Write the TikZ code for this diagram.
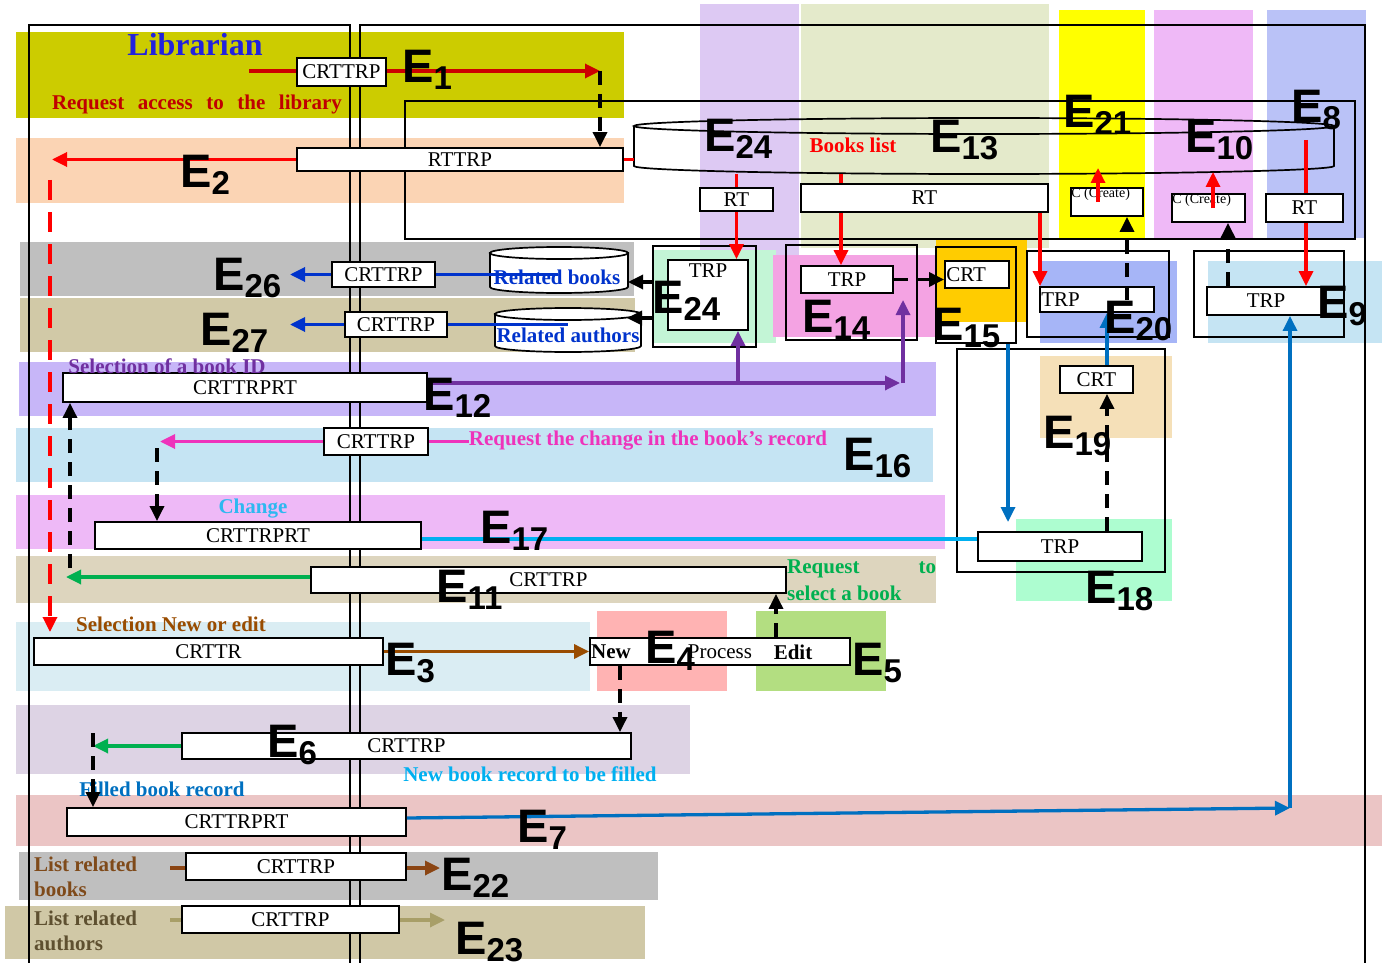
\documentclass[tikz,border=0pt]{standalone}
\usepackage{fontspec}
\setmainfont{Liberation Serif}
\newfontfamily\efont{Liberation Sans}
\usetikzlibrary{arrows.meta}
\newcommand\fsz[1]{\fontsize{#1}{#1}\selectfont}
\newcommand\El[1]{{\efont\bfseries\fsz{47}E\raisebox{-7pt}{\fsz{33}#1}}}
% bands
\definecolor{cOlive}{HTML}{CCCC00}
\definecolor{cPeach}{HTML}{FBD4B4}
\definecolor{cGray}{HTML}{BFBFBF}
\definecolor{cTan}{HTML}{D1C9A7}
\definecolor{cLav}{HTML}{C7B6F8}
\definecolor{cLB}{HTML}{C5E4F3}
\definecolor{cPV}{HTML}{EEB9F7}
\definecolor{cBeige}{HTML}{DDD5BE}
\definecolor{cLBb}{HTML}{DAEDF3}
\definecolor{cSal}{HTML}{FFB3B3}
\definecolor{cGrn}{HTML}{B3DE81}
\definecolor{cSix}{HTML}{DDD3E4}
\definecolor{cSeven}{HTML}{EBC5C5}
\definecolor{cTanb}{HTML}{D0C8A6}
\definecolor{cUa}{HTML}{DDC9F3}
\definecolor{cUb}{HTML}{E4EACB}
\definecolor{cUc}{HTML}{FFFF00}
\definecolor{cUd}{HTML}{EFB9F7}
\definecolor{cUe}{HTML}{BAC2F7}
\definecolor{cMa}{HTML}{C3F5D6}
\definecolor{cMb}{HTML}{F4A3E3}
\definecolor{cMc}{HTML}{FFCC00}
\definecolor{cMd}{HTML}{A6B5F7}
\definecolor{cMe}{HTML}{C5E4F3}
\definecolor{cMf}{HTML}{F5E0B8}
\definecolor{cMg}{HTML}{ADFDD0}
% texts and lines
\definecolor{tLib}{HTML}{2222DD}
\definecolor{tReq}{HTML}{C00000}
\definecolor{tRed}{HTML}{FF0000}
\definecolor{tRel}{HTML}{0033CC}
\definecolor{tSel}{HTML}{7030A0}
\definecolor{tMag}{HTML}{EE33BB}
\definecolor{tChg}{HTML}{2EB8F0}
\definecolor{tGreen}{HTML}{00B050}
\definecolor{tBrown}{HTML}{994C00}
\definecolor{tCyan}{HTML}{00B0F0}
\definecolor{tBlue}{HTML}{0070C0}
\definecolor{tLRB}{HTML}{7F4A1A}
\definecolor{tLRA}{HTML}{5E5030}
\definecolor{lDark}{HTML}{CC0000}
\definecolor{lBrownb}{HTML}{8B4513}
\definecolor{lKhaki}{HTML}{A89F68}
\begin{document}
\begin{tikzpicture}[x=1pt,y=-1pt,
  frame/.style={draw=black,line width=1.7pt},
  bx/.style={draw=black,line width=1.9pt,fill=white,inner sep=0pt,font=\fsz{21}},
  ob/.style={draw=black,line width=1.9pt,inner sep=0pt},
  ln/.style={line width=3.3pt},
  ar/.style={line width=3.3pt,-{Triangle[length=15pt,width=14pt]}},
  dsh/.style={dash pattern=on 14pt off 9pt},
  rdsh/.style={dash pattern=on 20pt off 12pt},
  lab/.style={inner sep=0pt,font=\fsz{21}\bfseries},
  el/.style={anchor=base west,inner sep=0pt}]
\useasboundingbox (0,0) rectangle (1382,963);
% ---------- bands ----------
\fill[cOlive] (16,32) rectangle (624,118);
\fill[cPeach] (16,138) rectangle (624,203);
\fill[cGray] (20,242) rectangle (634,296);
\fill[cTan] (20,298) rectangle (635,352);
\fill[cLav] (19,362) rectangle (936,416);
\fill[cLB] (16,428) rectangle (933,482);
\fill[cPV] (16,495) rectangle (945,549);
\fill[cBeige] (16,556) rectangle (936,603);
\fill[cLBb] (16,622) rectangle (590,691);
\fill[cSal] (597,611) rectangle (727,691);
\fill[cGrn] (756,611) rectangle (886,691);
\fill[cSix] (16,705) rectangle (690,774);
\fill[cSeven] (16,795) rectangle (1382,846);
\fill[cGray] (19,852) rectangle (658,900);
\fill[cTanb] (5,906) rectangle (645,959);
\fill[cUa] (700,4) rectangle (799,255);
\fill[cUb] (801,4) rectangle (1049,248);
\fill[cUc] (1059,10) rectangle (1145,238);
\fill[cUd] (1154,10) rectangle (1253,238);
\fill[cUe] (1267,10) rectangle (1366,238);
\fill[cMa] (653,250) rectangle (776,343);
\fill[cMb] (773,255) rectangle (936,337);
\fill[cMc] (936,240) rectangle (1027,322);
\fill[cMd] (1040,261) rectangle (1177,343);
\fill[cMe] (1208,261) rectangle (1382,343);
\fill[cMf] (1040,356) rectangle (1172,438);
\fill[cMg] (1016,519) rectangle (1172,601);
% ---------- frames ----------
\draw[frame] (29,963) -- (29,25) -- (350,25) -- (350,963);
\draw[frame] (360,963) -- (360,25) -- (1365,25) -- (1365,963);
\draw[frame] (405,101) rectangle (1355,239);
% Books list cylinder
\draw[frame] (984,126) ellipse [x radius=350, y radius=8];
\draw[frame] (634,126) -- (634,166) arc[start angle=180,end angle=0,x radius=350,y radius=8] -- (1334,126);
% related books / authors cylinders
\draw[frame,fill=white] (490,253) -- (490,287) arc[start angle=180,end angle=0,x radius=69,y radius=6] -- (628,253) -- cycle;
\draw[frame,fill=white] (559,253) ellipse [x radius=69, y radius=6];
\draw[frame,fill=white] (495,314) -- (495,346) arc[start angle=180,end angle=0,x radius=73,y radius=6] -- (641,314) -- cycle;
\draw[frame,fill=white] (568,314) ellipse [x radius=73, y radius=6];
% ---------- outer boxes ----------
\node[ob,minimum width=103,minimum height=101] (o24) at (704.5,296.5) {};
\node[ob,minimum width=131,minimum height=95] (o14) at (851.5,292.5) {};
\node[ob,minimum width=80,minimum height=96] (o15) at (976,295) {};
\node[ob,minimum width=142,minimum height=86] (o20) at (1098,294) {};
\node[ob,minimum width=150,minimum height=86] (o9) at (1269,294) {};
\node[ob,minimum width=208,minimum height=223] (o1819) at (1061,460.5) {};
% ---------- white boxes ----------
\node[bx,minimum width=80,minimum height=70,label={[anchor=north,inner sep=0pt,yshift=-4pt,font=\fsz{21}]north:TRP}] (trp24) at (708,295) {};
\node[bx,minimum width=92,minimum height=27] (trp14) at (847,279.5) {TRP};
\node[bx,minimum width=64,minimum height=27,label={[anchor=west,inner sep=0pt,xshift=2pt,font=\fsz{21}]west:CRT}] (crt15) at (977,274.5) {};
\node[bx,minimum width=114,minimum height=25,label={[anchor=west,inner sep=0pt,xshift=2pt,font=\fsz{21}]west:TRP}] (trp20) at (1097,299.5) {};
\node[bx,minimum width=118,minimum height=28] (trp9) at (1266,301) {TRP};
\node[bx,minimum width=73,minimum height=27] (crt19) at (1096.5,379.5) {CRT};
\node[bx,minimum width=164,minimum height=29] (trp18) at (1060,546.5) {TRP};
\node[bx,minimum width=73,minimum height=23] (rt1) at (736.5,199.5) {RT};
\node[bx,minimum width=247,minimum height=28] (rt2) at (924.5,198) {RT};
\node[bx,minimum width=72,minimum height=28,label={[anchor=north west,inner sep=1pt,font=\fsz{14}]north west:C (Create)}] (cc1) at (1107,202) {};
\node[bx,minimum width=73,minimum height=28,label={[anchor=north west,inner sep=1pt,font=\fsz{14}]north west:C (Create)}] (cc2) at (1208.5,208) {};
\node[bx,minimum width=77,minimum height=28] (rt3) at (1304.5,208) {RT};
\node[bx,minimum width=89,minimum height=28] (e1) at (341.5,72) {CRTTRP};
\node[bx,minimum width=326,minimum height=23] (rttrp) at (460,159.5) {RTTRP};
\node[bx,minimum width=103,minimum height=25] (e26b) at (383.5,274.5) {CRTTRP};
\node[bx,minimum width=102,minimum height=25] (e27b) at (396,324.5) {CRTTRP};
\node[bx,minimum width=364,minimum height=29] (e12b) at (245,387.5) {CRTTRPRT};
\node[bx,minimum width=104,minimum height=27] (e16b) at (376,441.5) {CRTTRP};
\node[bx,minimum width=326,minimum height=27] (e17b) at (258,535.5) {CRTTRPRT};
\node[bx,minimum width=475,minimum height=26] (e11b) at (548.5,580) {CRTTRP};
\node[bx,minimum width=349,minimum height=27] (e3b) at (208.5,651.5) {CRTTR};
\node[bx,minimum width=260,minimum height=27] (npe) at (720,651.5) {};
\node[bx,minimum width=449,minimum height=26] (e6b) at (406.5,746) {CRTTRP};
\node[bx,minimum width=339,minimum height=28] (e7b) at (236.5,822) {CRTTRPRT};
\node[bx,minimum width=220,minimum height=27] (e22b) at (296,866.5) {CRTTRP};
\node[bx,minimum width=217,minimum height=27] (e23b) at (290.5,919.5) {CRTTRP};
% ---------- text labels ----------
\node[lab,font=\fsz{32}\bfseries,text=tLib] (lib) at (195,45) {Librarian};
\node[lab,text=tReq] (req) at (197,104) {\makebox[290pt][s]{Request access to the library}};
\node[lab,text=tRed] (bl) at (853,145) {Books list};
\node[lab,text=tSel] (sel) at (167,366) {Selection of a book ID};
\node[lab,text=tMag] (rq) at (648,441) {Request the change in the book’s record};
\node[lab,text=tChg] (chg) at (253,509) {Change};
\node[lab,text=tGreen,anchor=west] (rsa) at (787,569) {\makebox[149pt][s]{Request to}};
\node[lab,text=tGreen,anchor=west] (rsb) at (787,593) {select a book};
\node[lab,text=tBrown] (sne) at (171,624) {Selection New or edit};
\node[lab] (nw) at (611,652) {New};
\node[inner sep=0pt,font=\fsz{21}] (pr) at (720,652) {Process};
\node[lab] (ed) at (793,652) {Edit};
\node[lab,text=tCyan] (nbr) at (530,774) {New book record to be filled};
\node[lab,text=tBlue] (fbr) at (162,789) {Filled book record};
\node[lab,text=tLRB,anchor=west,align=left,font=\fontsize{21}{25}\selectfont\bfseries] (lrb) at (34,877) {List related\\books};
\node[lab,text=tLRA,anchor=west,align=left,font=\fontsize{21}{25}\selectfont\bfseries] (lra) at (34,931) {List related\\authors};
% ---------- connectors ----------
\coordinate (a1s) at (249,71); \coordinate (a1e) at (600,71);
\draw[ln,lDark] (a1s) -- (a1s -| e1.west);
\draw[ar,lDark] (a1s -| e1.east) -- (a1e);
\draw[ar,dsh] (a1e) -- (a1e |- rttrp.north);
\coordinate (cylL) at (634,159.5); \coordinate (a2e) at (52,159.5);
\draw[ln,tRed] (cylL) -- (rttrp.east);
\draw[ar,tRed] (rttrp.west) -- (a2e);
\coordinate (rd1) at (50,180); \coordinate (rd2) at (50,632);
\draw[ar,rdsh,tRed] (rd1) -- (rd2);
% related books / authors
\coordinate (b26) at (558,274.5); \coordinate (t26) at (290,274.5);
\draw[ln,tRel] (e26b.east) -- (b26);
\draw[ar,tRel] (e26b.west) -- (t26);
\coordinate (b27) at (568,324.5); \coordinate (t27) at (290,324.5);
\draw[ln,tRel] (e27b.east) -- (b27);
\draw[ar,tRel] (e27b.west) -- (t27);
\coordinate (k1e) at (628,282); \coordinate (k2e) at (627,318);
\draw[ar] (o24.west |- k1e) -- (k1e);
\draw[ar] (o24.west |- k2e) -- (k2e);
% red from Books list
\coordinate (r1) at (736.5,174);
\draw[ln,tRed] (r1) -- (rt1.north);
\draw[ar,tRed] (rt1.south) -- (rt1.south |- trp24.north);
\coordinate (r2) at (841,174);
\draw[ln,tRed] (r2) -- (r2 |- rt2.north);
\draw[ar,tRed] (r2 |- rt2.south) -- (r2 |- trp14.north);
\coordinate (r2b) at (1040,0);
\draw[ar,tRed] (r2b |- rt2.south) -- (r2b |- trp20.north);
\coordinate (u1) at (1098,168);
\draw[ar,tRed] (u1 |- cc1.center) -- (u1);
\coordinate (u2) at (1213,172);
\draw[ar,tRed] (u2 |- cc2.center) -- (u2);
\coordinate (r3) at (1306,140);
\draw[ln,tRed] (r3) -- (r3 |- rt3.north);
\draw[ar,tRed] (r3 |- rt3.south) -- (r3 |- trp9.north);
% dashed black up to C (Create)
\coordinate (d1) at (1127,300);
\draw[ar,dsh] (d1) -- (d1 |- cc1.south);
\coordinate (d2) at (1228,0);
\draw[ar,dsh] (d2 |- trp9.north) -- (d2 |- cc2.south);
\draw[ar,dsh] (trp14.east) -- (trp14.east -| crt15.west);
% purple
\coordinate (p1) at (900,383); \coordinate (p2) at (738,383);
\coordinate (p3) at (903,383); \coordinate (p3e) at (903,300);
\draw[ar,tSel] (e12b.east |- p1) -- (p1);
\draw[ar,tSel] (p2) -- (p2 |- trp24.south);
\draw[ar,tSel] (p3) -- (p3e);
% magenta
\coordinate (m1) at (160,441.5);
\draw[ar,tMag] (e16b.west) -- (m1);
\draw[ln,tMag] (e16b.east) -- (rq.west |- e16b.east);
\coordinate (d3) at (157,448);
\draw[ar,dsh] (d3) -- (d3 |- e17b.north);
% cyan
\coordinate (cy) at (0,539);
\draw[ln,tCyan] (e17b.east |- cy) -- (trp18.west |- cy);
% green E11
\coordinate (g1) at (66,577);
\draw[ar,tGreen] (e11b.west |- g1) -- (g1);
\coordinate (d4) at (70,568);
\draw[ar,dsh] (d4) -- (d4 |- e12b.south);
% brown E3
\draw[ar,tBrown] (e3b.east) -- (npe.west);
\coordinate (d5) at (776,0);
\draw[ar,dsh] (d5 |- npe.north) -- (d5 |- e11b.south);
\coordinate (d6) at (620,0);
\draw[ar,dsh] (d6 |- npe.south) -- (d6 |- e6b.north);
% E6
\coordinate (g2) at (93,746);
\draw[ar,tGreen] (e6b.west) -- (g2);
\coordinate (d7) at (93,733);
\draw[ar,dsh] (d7) -- (d7 |- e7b.north);
% E7
\coordinate (bb) at (1290,808);
\draw[ar,tBlue] ([yshift=4pt]e7b.east) -- (bb);
\draw[ar,tBlue] (bb) -- (bb |- trp9.south);
% E22 / E23
\coordinate (q1) at (170,868); \coordinate (q2) at (440,868);
\draw[ln,lBrownb] (q1) -- (q1 -| e22b.west);
\draw[ar,lBrownb] (q2 -| e22b.east) -- (q2);
\coordinate (q3) at (170,920); \coordinate (q4) at (445,920);
\draw[ln,lKhaki] (q3) -- (q3 -| e23b.west);
\draw[ar,lKhaki] (q4 -| e23b.east) -- (q4);
% E15/E18/E19/E20
\coordinate (v1) at (1008,0); \coordinate (v1e) at (1008,522);
\draw[ar,tBlue] (v1 |- o15.south) -- (v1e);
\coordinate (v2) at (1107,0);
\draw[ar,tBlue] (v2 |- crt19.north) -- (v2 |- trp20.south);
\draw[ar,dsh] (v2 |- trp18.north) -- (v2 |- crt19.south);
% related labels on top
\node[lab,text=tRel] (rb) at (557,277) {Related books};
\node[lab,text=tRel] (ra) at (568,335) {Related authors};
% ---------- E labels ----------
\node[el] (E1) at (402,83) {\El{1}};
\node[el] (E2) at (180,187) {\El{2}};
\node[el] (E26) at (213,290) {\El{26}};
\node[el] (E27) at (200,345) {\El{27}};
\node[el] (E12) at (423,410) {\El{12}};
\node[el] (E16) at (843,470) {\El{16}};
\node[el] (E17) at (480,543) {\El{17}};
\node[el] (E11) at (436,602) {\El{11}};
\node[el] (E3) at (385,675) {\El{3}};
\node[el] (E4) at (645,663) {\El{4}};
\node[el] (E5) at (852,675) {\El{5}};
\node[el] (E6) at (267,757) {\El{6}};
\node[el] (E7) at (517,842) {\El{7}};
\node[el] (E22) at (441,890) {\El{22}};
\node[el] (E23) at (455,954) {\El{23}};
\node[el] (E24a) at (704,152) {\El{24}};
\node[el] (E13) at (930,153) {\El{13}};
\node[el] (E21) at (1063,128) {\El{21}};
\node[el] (E10) at (1185,153) {\El{10}};
\node[el] (E8) at (1291,123) {\El{8}};
\node[el] (E24b) at (652,313) {\El{24}};
\node[el] (E14) at (802,332) {\El{14}};
\node[el] (E15) at (932,340) {\El{15}};
\node[el] (E20) at (1104,333) {\El{20}};
\node[el] (E9) at (1317,318) {\El{9}};
\node[el] (E19) at (1043,448) {\El{19}};
\node[el] (E18) at (1085,603) {\El{18}};
\end{tikzpicture}
\end{document}
